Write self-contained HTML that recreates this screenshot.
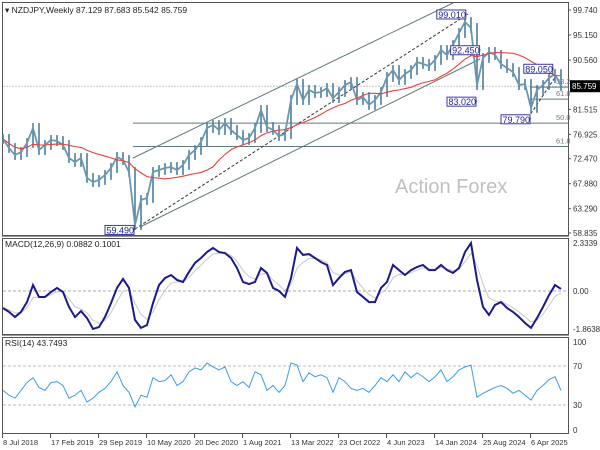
<!DOCTYPE html>
<html><head><meta charset="utf-8">
<style>
html,body{margin:0;padding:0;background:#fff;}
svg{display:block;font-family:"Liberation Sans",sans-serif;}
</style></head>
<body>
<svg id="chart" width="600" height="450" viewBox="0 0 600 450" xmlns="http://www.w3.org/2000/svg">
  <rect x="0" y="0" width="600" height="450" fill="#fff"/>
  <g id="frames">
    <rect x="2.5" y="2.5" width="566" height="233" fill="none" stroke="#555" stroke-width="1"/>
    <line x1="2" y1="236.5" x2="569" y2="236.5" stroke="#999" stroke-width="1"/>
    <rect x="2.5" y="238.5" width="566" height="96" fill="none" stroke="#555" stroke-width="1"/>
    <line x1="2" y1="335.5" x2="569" y2="335.5" stroke="#999" stroke-width="1"/>
    <rect x="2.5" y="337.5" width="566" height="96" fill="none" stroke="#555" stroke-width="1"/>
  </g>
  <text x="395" y="193" font-size="20" fill="#c0c0c0">Action Forex</text>
  <g id="main"></g>
  <g id="macd"></g>
  <g id="rsi"></g>
  <g id="xaxis"></g>
  <text x="5" y="13" font-size="8.5" fill="#222">▾ NZDJPY,Weekly  87.129 87.683 85.542 85.759</text>
  <text x="5" y="247" font-size="8.5" fill="#222">MACD(12,26,9) 0.0882 0.1001</text>
  <text x="5" y="346" font-size="8.5" fill="#222">RSI(14) 43.7493</text>
</svg>
<script>
const closes = [76.08,74.43,73.14,73.69,75.35,78.10,74.06,74.98,75.90,75.71,
74.98,72.59,71.86,72.59,68.93,68.19,68.56,69.48,70.76,72.78,
72.23,70.03,60.30,64.89,65.26,70.03,70.39,70.76,70.94,70.39,
71.31,73.14,74.06,75.53,78.10,78.65,77.73,79.01,77.73,76.81,
75.90,76.26,78.10,81.40,78.28,77.73,76.63,77.00,83.23,86.17,
83.23,85.07,84.52,84.70,85.43,83.60,84.70,85.98,86.53,83.23,
83.78,82.32,83.23,84.70,87.45,88.73,86.90,88.00,88.73,90.20,
89.84,89.47,90.57,92.40,91.49,93.32,95.52,97.54,96.44,85.98,
90.94,92.04,91.49,89.84,89.10,88.37,85.98,86.17,81.77,85.07,
85.98,87.27,88.00,85.80];
const macdVals = [-0.83,-1.02,-1.27,-1.02,-0.54,0.29,-0.29,-0.29,-0.05,0.15,
-0.05,-0.78,-1.27,-0.98,-1.32,-1.85,-1.76,-1.27,-0.59,0.15,
0.59,0.15,-1.41,-1.80,-1.66,-0.59,0.29,0.63,0.78,0.54,
0.44,0.93,1.37,1.61,1.90,2.10,1.90,1.85,1.61,1.12,
0.44,0.34,0.44,1.12,0.88,0.15,0.00,-0.29,0.63,2.10,
1.76,1.80,1.61,1.41,1.27,0.29,0.63,0.93,1.02,-0.05,
-0.29,-0.54,-0.54,0.15,0.44,1.27,1.02,0.78,1.02,
1.17,1.27,1.02,1.02,1.27,1.02,0.88,1.12,1.90,2.34,
0.54,-0.78,-1.17,-0.68,-0.54,-0.83,-1.02,-1.27,-1.56,-1.80,
-1.32,-0.78,-0.20,0.29,0.10];
const rsiVals = [45,40,37,45,53,58,48,45,53,54,50,37,40,45,33,37,43,47,54,64,
50,43,28,40,38,58,54,55,61,50,54,64,68,66,73,69,66,69,54,50,
54,48,64,61,45,50,43,50,73,71,54,63,59,61,58,43,58,54,47,45,
47,43,50,58,54,61,54,64,58,
63,59,54,59,66,54,59,66,69,71,38,42,45,48,50,47,42,45,40,35,45,50,56,59,45];
const priceTicks = ["99.740","95.150","90.560","81.515","76.925","72.470","67.880","63.290","58.835"];
const dateLabels = ["8 Jul 2018","17 Feb 2019","29 Sep 2019","10 May 2020","20 Dec 2020","1 Aug 2021","13 Mar 2022","23 Oct 2022","4 Jun 2023","14 Jan 2024","25 Aug 2024","6 Apr 2025"];
const lastPrice = 85.759;
const pivots = [ {label:"99.010",v:99.01,i:77.3,dir:"hi"}, {label:"92.450",v:92.45,i:79.6,dir:"hi"},
  {label:"89.050",v:89.05,i:91.8,dir:"hi"}, {label:"83.020",v:83.02,i:79,dir:"lo"},
  {label:"79.790",v:79.79,i:88,dir:"lo"}, {label:"59.490",v:59.49,i:22,dir:"lo"} ];

const NS="http://www.w3.org/2000/svg";
function mk(parent,tag,attrs){const e=document.createElementNS(NS,tag);for(const k in attrs)e.setAttribute(k,attrs[k]);parent.appendChild(e);return e;}
const xOf = i => 3 + i*6;
const yP = p => 10 + (99.74 - p)*5.452;
const yM = v => 291 - v*20.5;
const yR = v => 405 - (v-30)*0.975;
const main=document.getElementById('main'), mg=document.getElementById('macd'), rg=document.getElementById('rsi'), xg=document.getElementById('xaxis');

const tickPrices=[99.74,95.15,90.56,81.515,76.925,72.47,67.88,63.29,58.835];
priceTicks.forEach((t,k)=>{
  const y=yP(tickPrices[k]);
  const ln=mk(main,'line',{x1:568,x2:571,y1:y,y2:y,stroke:'#555'});
  
  
  const tx=mk(main,'text',{x:573,y:y+3,'font-size':8,fill:'#333'});tx.textContent=t;
  
  
});
{const y=yP(lastPrice);
 const l=mk(main,'line',{x1:3,x2:568,y1:y,y2:y,stroke:'#c8c8c8','stroke-dasharray':'2,1'});
 
 
 const r=mk(main,'rect',{x:570,y:y-6,width:30,height:12,fill:'#000'});
 
 
 const t=mk(main,'text',{x:572,y:y+3,'font-size':8,fill:'#fff'});t.textContent="85.759";
 
 }
const fibs=[{v:79.0,x1:133,lab:"50.0"},{v:74.7,x1:133,lab:"61.8"},{v:85.6,x1:530,lab:"38.2"},{v:83.4,x1:530,lab:"61.8"}];
fibs.forEach(f=>{const y=yP(f.v);
 const l=mk(main,'line',{x1:f.x1,x2:568,y1:y,y2:y,stroke:'#5f7a7a','stroke-width':1});
 
 
 const t=mk(main,'text',{x:556,y:y-3,'font-size':7.5,fill:'#777'});t.textContent=f.lab;
 
 });
[[133,158,453,3,''],[140,227,480,59,''],[135,229,468,14,'3,2'],[528,118,556,76,'3,2']].forEach(c=>{
 const l=mk(main,'line',{x1:c[0],y1:c[1],x2:c[2],y2:c[3],stroke:c[4]?'#333':'#5f7a7a','stroke-dasharray':c[4]||'none','stroke-width':1});
 
 });
closes.forEach((c,i)=>{const p=i>0?closes[i-1]:c;
 const hi=Math.max(p,c)+0.9, lo=Math.min(p,c)-0.9;
 const b=mk(main,'line',{x1:xOf(i),x2:xOf(i),y1:yP(hi),y2:yP(lo),stroke:'#4d7f9c','stroke-width':1.6});
 
 });
{const pl=mk(main,'polyline',{points:closes.map((c,i)=>xOf(i)+','+yP(c)).join(' '),fill:'none',stroke:'#6a97b0','stroke-width':1.8});
 
 }
{const ma=closes.map((c,i)=>{const s=closes.slice(Math.max(0,i-13),i+1);return s.reduce((a,b)=>a+b,0)/s.length;});
 const pl=mk(main,'polyline',{points:ma.map((m,i)=>xOf(i)+','+yP(m)).join(' '),fill:'none',stroke:'#e8413a','stroke-width':1.1});
 
 }
pivots.forEach(pv=>{const x=xOf(pv.i), y=yP(pv.v); const w=29;
 const bx=x-w-1, by=y-4;
 const l=mk(main,'line',{x1:bx+w,x2:x,y1:y,y2:y,stroke:'#3a3aa0'});
 
 
 const r=mk(main,'rect',{x:bx,y:by,width:w,height:9,fill:'#fff',stroke:'#3a3aa0','stroke-width':1});
 
 
 const t=mk(main,'text',{x:bx+1.5,y:by+8,'font-size':9,fill:'#22228a'});t.textContent=pv.label;
 
 });

{const z=mk(mg,'line',{x1:3,x2:568,y1:yM(0),y2:yM(0),stroke:'#aaa','stroke-dasharray':'3,2'});
 
 
 const labs=[["2.3339",2.3339],["0.00",0],["-1.8638",-1.8638]];
 labs.forEach(a=>{const t=mk(mg,'text',{x:573,y:yM(a[1])+3,'font-size':8,fill:'#333'});t.textContent=a[0];
  
  });
 let s=macdVals[0]; const sig=macdVals.map(v=>(s=s+0.45*(v-s)));
 const sl=mk(mg,'polyline',{points:sig.map((v,i)=>xOf(i)+','+yM(v)).join(' '),fill:'none',stroke:'#c8c8c8','stroke-width':1});
 
 
 const ml=mk(mg,'polyline',{points:macdVals.map((v,i)=>xOf(i)+','+yM(v)).join(' '),fill:'none',stroke:'#1a1a8c','stroke-width':2});
 
 }

{[70,30].forEach(v=>{const l=mk(rg,'line',{x1:3,x2:568,y1:yR(v),y2:yR(v),stroke:'#bbb','stroke-dasharray':'3,2'});
  
  });
 [100,70,30,0].forEach(v=>{const t=mk(rg,'text',{x:573,y:(v===100?345:v===0?433:yR(v)+3),'font-size':8,fill:'#333'});t.textContent=String(v);
  
  });
 const rl=mk(rg,'polyline',{points:rsiVals.map((v,i)=>xOf(i)+','+yR(v)).join(' '),fill:'none',stroke:'#3d9be9','stroke-width':1});
 
 }

dateLabels.forEach((d,k)=>{const x=2+k*48;
 const l=mk(xg,'line',{x1:x+0.5,x2:x+0.5,y1:434,y2:438,stroke:'#555'});
 
 
 const t=mk(xg,'text',{x:x+1,y:445,'font-size':7.6,fill:'#333'});t.textContent=d;
 
 });
</script>
</body></html>
